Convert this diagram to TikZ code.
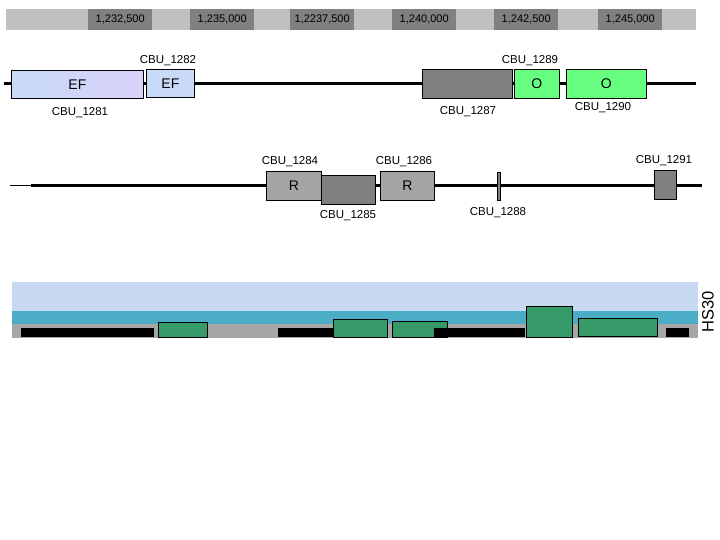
\documentclass[tikz,border=0pt]{standalone}
\usepackage{fontspec}
\setmainfont{Liberation Sans}
\definecolor{rulerlight}{HTML}{C0C0C0}
\definecolor{rulerdark}{HTML}{808080}
\definecolor{efleft}{HTML}{C8DAF8}
\definecolor{efright}{HTML}{D8D2F8}
\definecolor{ogreen}{HTML}{66FF80}
\definecolor{rgray}{HTML}{A4A4A4}
\definecolor{dgray}{HTML}{808080}
\definecolor{tlight}{HTML}{C6D9F1}
\definecolor{tteal}{HTML}{4BACC6}
\definecolor{tgray}{HTML}{A6A6A6}
\definecolor{tgreen}{HTML}{369A68}
\tikzset{
  tick/.style={fill=rulerdark, inner sep=0pt, anchor=north west, minimum height=21pt, minimum width=64pt, font=\fontsize{11}{13}\selectfont},
  gene/.style={draw=black, line width=0.8pt, inner sep=0pt, anchor=north west, font=\fontsize{14}{16}\selectfont},
  lbl/.style={inner sep=0pt, font=\fontsize{11.5}{13}\selectfont},
  backbone/.style={line width=3pt, black},
  feat/.style={draw=black, line width=0.7pt, fill=tgreen},
}
\begin{document}
\begin{tikzpicture}[x=1pt,y=-1pt]
\useasboundingbox (0,0) rectangle (720,540);
% ruler
\fill[rulerlight] (6,9) rectangle (696,30);
\node[tick] (t1) at (88,9) {1,232,500};
\node[tick] (t2) at (190,9) {1,235,000};
\node[tick] (t3) at (290,9) {1,2237,500};
\node[tick] (t4) at (392,9) {1,240,000};
\node[tick] (t5) at (494,9) {1,242,500};
\node[tick] (t6) at (598,9) {1,245,000};
% row 1
\coordinate (r1s) at (4,84);
\coordinate (r1e) at (696,84);
\draw[backbone] (r1s) -- (r1e);
\node[gene, left color=efleft, right color=efright, minimum width=132pt, minimum height=28pt] (g1281) at (11,70) {EF};
\node[gene, fill=efleft, minimum width=48pt, minimum height=28pt] (g1282) at (146,69) {EF};
\node[gene, fill=dgray, minimum width=90pt, minimum height=29pt] (g1287) at (422,69) {};
\node[gene, fill=ogreen, minimum width=45pt, minimum height=29pt] (g1289) at (514,69) {O};
\node[gene, fill=ogreen, minimum width=80pt, minimum height=29pt] (g1290) at (566,69) {O};
\node[lbl] (l1282) at (168,60.5) {CBU\_1282};
\node[lbl] (l1281) at (80,112.5) {CBU\_1281};
\node[lbl] (l1289) at (530,60.5) {CBU\_1289};
\node[lbl] (l1287) at (468,111.5) {CBU\_1287};
\node[lbl] (l1290) at (603,107.5) {CBU\_1290};
% row 2
\coordinate (r2a) at (10,185.5);
\coordinate (r2b) at (31,185.5);
\coordinate (r2e) at (702,185.5);
\draw[line width=1pt] (r2a) -- (r2b);
\draw[backbone] (r2b) -- (r2e);
\node[gene, fill=rgray, minimum width=55pt, minimum height=29pt] (g1284) at (266,171) {R};
\node[gene, fill=dgray, minimum width=54pt, minimum height=29pt] (g1285) at (321,175) {};
\node[gene, fill=rgray, minimum width=54pt, minimum height=29pt] (g1286) at (380,171) {R};
\node[gene, fill=dgray, minimum width=3pt, minimum height=28pt] (g1288) at (497,172) {};
\node[gene, fill=dgray, minimum width=22pt, minimum height=29pt] (g1291) at (654,170) {};
\node[lbl] (l1284) at (290,161.5) {CBU\_1284};
\node[lbl] (l1285) at (348,215.5) {CBU\_1285};
\node[lbl] (l1286) at (404,161.5) {CBU\_1286};
\node[lbl] (l1288) at (498,212.5) {CBU\_1288};
\node[lbl] (l1291) at (664,160.5) {CBU\_1291};
% track HS30
\fill[tlight] (12,282) rectangle (698,311);
\fill[tteal] (12,311) rectangle (698,324);
\fill[tgray] (12,324) rectangle (698,338);
\fill[black] (21,328) rectangle (154,337);
\fill[black] (278,328) rectangle (334,337);
\draw[feat] (158,322) rectangle (207,337);
\draw[feat] (333,319) rectangle (387,337);
\draw[feat] (392,321) rectangle (447,337);
\fill[black] (434,328) rectangle (525,337);
\draw[feat] (526,306) rectangle (572,337);
\draw[feat] (578,318) rectangle (657,336);
\fill[black] (666,328) rectangle (689,337);
\node[inner sep=0pt, rotate=90, font=\fontsize{16.5}{18}\selectfont] (hs30) at (708,312) {HS30};
\end{tikzpicture}
\end{document}
